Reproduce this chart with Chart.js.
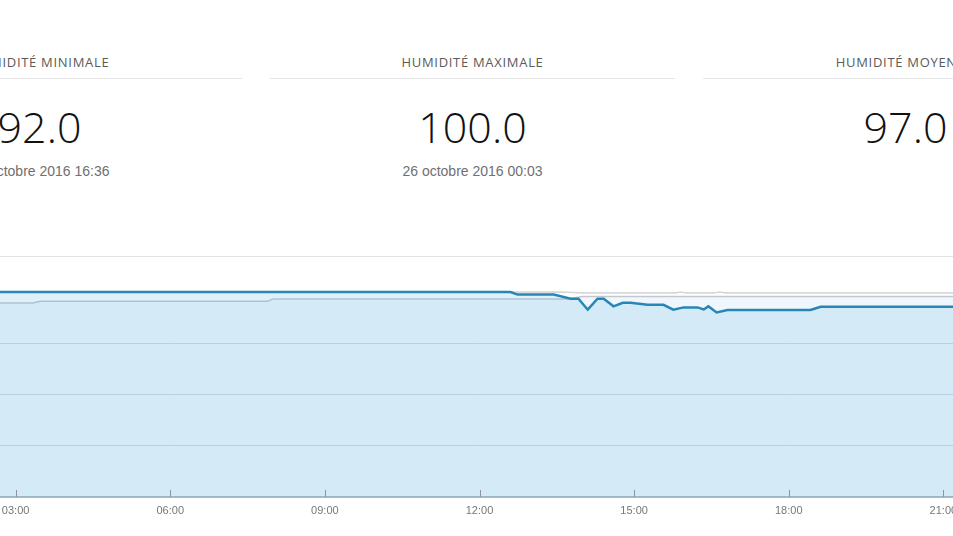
<!DOCTYPE html>
<html>
<head>
<meta charset="utf-8">
<script src="https://cdn.jsdelivr.net/npm/chart.js@4/dist/chart.umd.min.js"></script>
<style>
html,body{margin:0;padding:0;width:953px;height:536px;overflow:hidden;background:#fff;}
.box{position:absolute;top:0;width:405px;text-align:center;}
.title{position:absolute;left:0;right:0;top:53px;font-family:"Open Sans",sans-serif;font-size:13px;letter-spacing:0.7px;color:#5a5a5a;line-height:18px;white-space:nowrap;}
.rule{position:absolute;left:0;right:0;top:78px;height:1px;background:#e6e6e6;}
.val{position:absolute;left:0;right:0;top:99px;font-family:"Open Sans",sans-serif;font-weight:300;font-size:43px;color:#111;line-height:56px;white-space:nowrap;}
.date{position:absolute;left:0;right:0;top:163px;font-family:"Liberation Sans",Arial,sans-serif;font-size:14px;color:#707070;line-height:17px;white-space:nowrap;}
#sep{position:absolute;left:0;width:953px;top:256px;height:1px;background:#e2e2e2;}
#wrap{position:absolute;left:-139px;top:280px;}
</style>
</head>
<body>
<div class="box" style="left:-163px"><div class="title">HUMIDITÉ MINIMALE</div><div class="rule"></div><div class="val">92.0</div><div class="date">26 octobre 2016 16:36</div></div>
<div class="box" style="left:270px"><div class="title">HUMIDITÉ MAXIMALE</div><div class="rule"></div><div class="val">100.0</div><div class="date">26 octobre 2016 00:03</div></div>
<div class="box" style="left:703px"><div class="title">HUMIDITÉ MOYENNE</div><div class="rule"></div><div class="val">97.0</div></div>
<div id="sep"></div>
<div id="wrap"><canvas id="c" width="1237" height="240"></canvas></div>
<script>
// Humidity today (hours of day -> %)
const mainTimes  = [0, 12.6, 12.74, 13.44, 13.77, 13.92, 14.10, 14.29, 14.41, 14.60, 14.78, 14.93, 15.26, 15.57, 15.76, 15.96, 16.23, 16.35, 16.44, 16.60, 16.81, 17.07, 18.42, 18.62, 21.5];
const mainValues = [100, 100, 99, 99, 97.4, 97.4, 93.1, 97.4, 97.4, 94.4, 95.8, 95.8, 95.0, 95.0, 93.1, 94.0, 94.0, 93.2, 94.4, 92.0, 93.0, 93.0, 93.0, 94.2, 94.2];
// Comparison series (gray)
const lowTimes   = [0, 3.33, 3.48, 7.89, 8.0, 13.7, 14.0, 24];
const lowValues  = [95.7, 95.7, 96.4, 96.4, 97.3, 97.3, 98.2, 98.2];
const highTimes  = [0, 13.6, 14.0, 15.8, 15.9, 16.0, 16.55, 16.66, 16.77, 24];
const highValues = [100, 100, 99.6, 99.6, 100, 99.6, 99.6, 100, 99.6, 99.6];
// Axis ticks
const tickHours  = [3, 6, 9, 12, 15, 18, 21];
const tickLabels = ['03:00', '06:00', '09:00', '12:00', '15:00', '18:00', '21:00'];

const pts = (t, v) => t.map((x, i) => ({x, y: v[i]}));

const tickMarks = {
  id: 'tickMarks',
  afterDatasetsDraw(chart) {
    const {ctx, chartArea, scales} = chart;
    ctx.save();
    ctx.strokeStyle = '#8e9498';
    ctx.lineWidth = 1;
    tickHours.forEach(h => {
      const x = Math.round(scales.x.getPixelForValue(h)) + 0.5;
      ctx.beginPath();
      ctx.moveTo(x, chartArea.bottom - 7);
      ctx.lineTo(x, chartArea.bottom);
      ctx.stroke();
    });
    ctx.restore();
  }
};

new Chart(document.getElementById('c'), {
  type: 'line',
  data: {
    datasets: [
      {data: pts(mainTimes, mainValues), borderColor: '#2886b6', borderWidth: 2.5, clip: 6,
       backgroundColor: 'rgba(100,180,225,0.20)', fill: 'start', pointRadius: 0, tension: 0, order: 0},
      {data: pts(lowTimes, lowValues), borderColor: '#c2c6cf', borderWidth: 1.5, clip: 6,
       backgroundColor: 'rgba(100,180,225,0.10)', fill: 'start', pointRadius: 0, tension: 0, order: 1},
      {data: pts(highTimes, highValues), borderColor: '#d6d6d6', borderWidth: 1.5, clip: 6,
       fill: false, pointRadius: 0, tension: 0, order: 2}
    ]
  },
  options: {
    responsive: false,
    animation: false,
    devicePixelRatio: 1,
    layout: {padding: {top: 12, left: 0, right: 0, bottom: 0}},
    plugins: {legend: {display: false}, tooltip: {enabled: false}},
    scales: {
      x: {
        type: 'linear', min: 0, max: 24,
        afterBuildTicks: s => { s.ticks = tickHours.map(v => ({value: v})); },
        afterFit: s => { s.height = 23; },
        grid: {display: false, drawTicks: false},
        border: {display: true, color: '#b3b8bc', width: 2},
        ticks: {
          padding: 7, maxRotation: 0, autoSkip: false,
          color: '#777', font: {family: 'Liberation Sans, Arial', size: 11},
          callback: v => tickLabels[tickHours.indexOf(v)] || ''
        }
      },
      y: {
        min: 20, max: 100,
        afterFit: s => { s.width = 0; },
        ticks: {display: false, stepSize: 20},
        grid: {color: '#d6dde3', drawTicks: false},
        border: {display: false}
      }
    }
  },
  plugins: [tickMarks]
});
</script>
</body>
</html>
